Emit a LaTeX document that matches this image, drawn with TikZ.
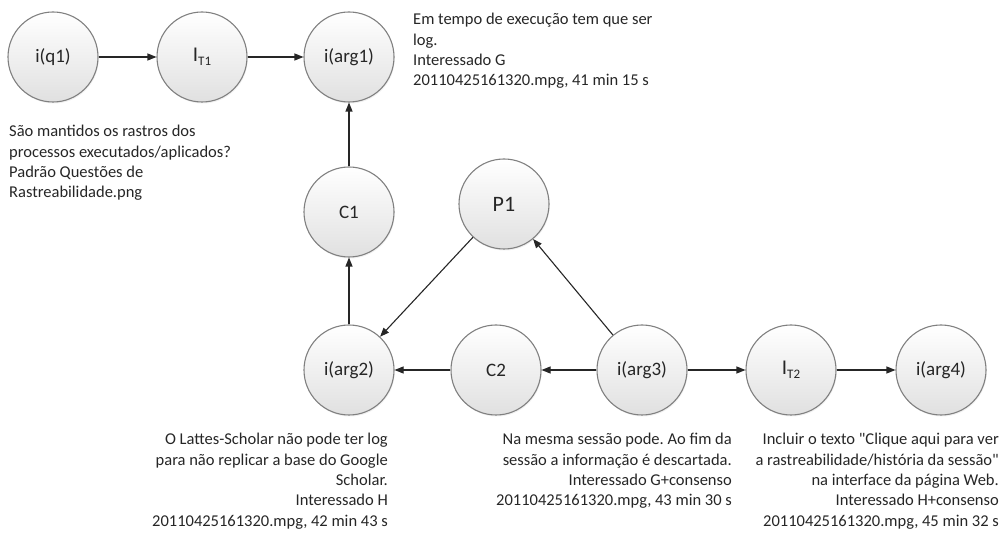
\documentclass[tikz,border=0pt]{standalone}
\usepackage{fontspec}
\setmainfont{Carlito}
\newfontfamily\plainfont{Carlito}
\usetikzlibrary{arrows.meta,shadows}
\begin{document}
\begin{tikzpicture}[x=1pt,y=-1pt,
  st/.style={circle,minimum size=90pt,inner sep=0pt,draw=black!50,line width=1.1pt,
    top color=white,bottom color=black!12,
    drop shadow={opacity=0.12,shadow xshift=0.8pt,shadow yshift=-1.5pt},
    font=\plainfont\fontsize{19}{22}\selectfont,text=black!85},
  note/.style={inner sep=0pt,font=\plainfont\frenchspacing\fontsize{16.5}{20.4}\selectfont,text=black!85},
  arr/.style={-{Triangle[length=9pt,width=7pt]},line width=1.1pt,draw=black!85}]
\useasboundingbox (0,0) rectangle (1005,537);
\newcommand{\subT}[1]{{\fontsize{13}{14}\selectfont\raisebox{-3.5pt}{#1}}}
\node[st] (q1)   at (53,57)   {i(q1)};
\node[st] (it1)  at (202,57)  {{\fontsize{21}{22}\selectfont I}\subT{T1}};
\node[st] (arg1) at (349,57)  {i(arg1)};
\node[st] (c1)   at (349,212) {C1};
\node[st,font=\plainfont\fontsize{22}{24}\selectfont] (p1) at (504,204) {P1};
\node[st] (arg2) at (349,370) {i(arg2)};
\node[st] (c2)   at (496,370) {C2};
\node[st] (arg3) at (642,370) {i(arg3)};
\node[st] (it2)  at (791,370) {{\fontsize{21}{22}\selectfont I}\subT{T2}};
\node[st] (arg4) at (941,370) {i(arg4)};
\draw[arr] (q1) -- (it1);
\draw[arr] (it1) -- (arg1);
\draw[arr] (c1) -- (arg1);
\draw[arr] (arg2) -- (c1);
\draw[arr] (p1) -- (arg2);
\draw[arr] (arg3) -- (p1);
\draw[arr] (c2) -- (arg2);
\draw[arr] (arg3) -- (c2);
\draw[arr] (arg3) -- (it2);
\draw[arr] (it2) -- (arg4);
\node[note,align=left,anchor=north west] (t1) at (9,125)
  {São mantidos os rastros dos\\processos executados/aplicados?\\Padrão Questões de\\Rastreabilidade.png};
\node[note,align=left,anchor=north west] (t2) at (413,13)
  {Em tempo de execução tem que ser\\log.\\Interessado G\\20110425161320.mpg, 41 min 15 s};
\node[note,align=right,anchor=north east] (t3) at (388,433)
  {O Lattes-Scholar não pode ter log\\para não replicar a base do Google\\Scholar.\\Interessado H\\20110425161320.mpg, 42 min 43 s};
\node[note,align=right,anchor=north east] (t4) at (732,433)
  {Na mesma sessão pode. Ao fim da\\sessão a informação é descartada.\\Interessado G+consenso\\20110425161320.mpg, 43 min 30 s};
\node[note,align=right,anchor=north east] (t5) at (999,433)
  {Incluir o texto "Clique aqui para ver\\a rastreabilidade/história da sessão"\\na interface da página Web.\\Interessado H+consenso\\20110425161320.mpg, 45 min 32 s};
\end{tikzpicture}
\end{document}
